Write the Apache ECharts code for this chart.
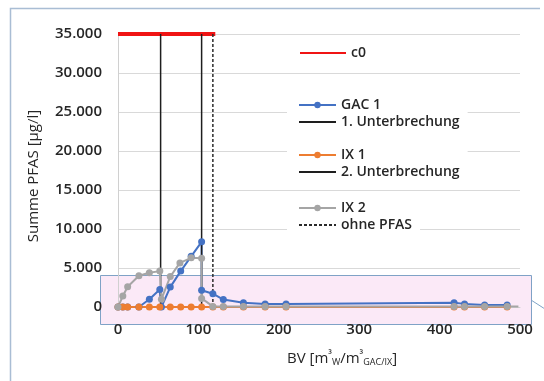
<!DOCTYPE html>
<html>
<head>
<meta charset="utf-8">
<script src="https://cdn.jsdelivr.net/npm/echarts@6/dist/echarts.min.js"></script>
<style>
html,body{margin:0;padding:0;background:#ffffff;}
#c{width:544px;height:381px;}
</style>
</head>
<body>
<div id="c"></div>
<script>
// ---- data ----
const yTicks = [0, 5000, 10000, 15000, 20000, 25000, 30000, 35000];
const xTicks = [0, 100, 200, 300, 400, 500];

const c0X = [0, 121];
const c0Y = [35000, 35000];

const gac1X = [0, 6, 12, 26, 39, 52, 54, 65, 78, 91, 104, 104, 118, 131, 156, 183, 209, 418, 431, 456, 484];
const gac1Y = [0, 0, 0, 0, 1000, 2250, 0, 2550, 4600, 6500, 8350, 2150, 1700, 950, 550, 400, 400, 550, 400, 250, 250];

const ix1X = [0, 6, 12, 26, 39, 52, 65, 78, 91, 104, 118, 131, 156, 183, 209, 418, 431, 456, 484];
const ix1Y = [0, 0, 0, 0, 0, 0, 0, 0, 0, 0, 0, 0, 0, 0, 0, 0, 0, 0, 0];

const ix2X = [0, 6, 12, 26, 39, 52, 54, 65, 77, 91, 104, 104, 118, 131, 156, 183, 209, 418, 431, 456, 484, 498];
const ix2Y = [0, 1400, 2600, 4000, 4400, 4600, 1000, 3900, 5650, 6300, 6250, 1100, 80, 80, 80, 80, 80, 80, 80, 80, 80, 80];

const unterbrechung1X = [53, 53];
const unterbrechung2X = [104, 104];
const ohnePfasX = [118, 118];
const verticalY = [0, 35000];

// ---- helpers ----
const zip = (xs, ys) => xs.map((x, i) => [x, ys[i]]);
const fmt = v => String(v).replace(/\B(?=(\d{3})+(?!\d))/g, '.');
const FONT = 'Open Sans';
const txt = '#262626';

const ix2Data = zip(ix2X, ix2Y).map((p, i) => i === ix2X.length - 1 ? {value: p, symbol: 'none'} : p);

const chart = echarts.init(document.getElementById('c'), null, {renderer: 'canvas'});

const legendText = {fontFamily: FONT, fontSize: 14, fontWeight: 600, color: txt};
const legendBase = {
  orient: 'vertical', left: 287, itemWidth: 37, itemHeight: 8, itemGap: 3,
  padding: [3, 8, 3, 11], backgroundColor: '#ffffff', selectedMode: false,
  textStyle: legendText
};

chart.setOption({
  animation: false,
  backgroundColor: '#ffffff',
  grid: {left: 118, right: 24, top: 34, bottom: 74, containLabel: false},
  xAxis: {
    type: 'value', min: 0, max: 500, interval: 100,
    axisLine: {show: true, lineStyle: {color: '#d0d0d0', width: 1}},
    axisTick: {show: false},
    splitLine: {show: false},
    axisLabel: {margin: 15, fontFamily: FONT, fontSize: 15, fontWeight: 600, color: txt,
      formatter: v => xTicks.includes(v) ? String(v) : ''}
  },
  yAxis: {
    type: 'value', min: 0, max: 35000, interval: 5000,
    axisLine: {show: true, lineStyle: {color: '#d0d0d0', width: 1}},
    axisTick: {show: false},
    splitLine: {show: true, lineStyle: {color: '#d9d9d9', width: 1}},
    axisLabel: {margin: 16, fontFamily: FONT, fontSize: 15, fontWeight: 600, color: txt,
      formatter: v => yTicks.includes(v) ? fmt(v) : ''}
  },
  legend: [
    Object.assign({}, legendBase, {data: [{name: 'c0', itemStyle: {opacity: 0}}], top: 43, left: 288, itemWidth: 46}),
    Object.assign({}, legendBase, {data: ['GAC 1', {name: '1. Unterbrechung', itemStyle: {opacity: 0}}], top: 95}),
    Object.assign({}, legendBase, {data: ['IX 1', {name: '2. Unterbrechung', itemStyle: {opacity: 0}}], top: 145}),
    Object.assign({}, legendBase, {data: ['IX 2', {name: 'ohne PFAS', itemStyle: {opacity: 0}}], top: 198})
  ],
  graphic: [
    {type: 'rect', z: -1, shape: {x: 100.5, y: 275.5, width: 431, height: 49},
      style: {fill: '#fbe9f7', stroke: '#7fa2c6', lineWidth: 1}},
    {type: 'line', z: -1, shape: {x1: 531, y1: 300, x2: 545, y2: 309},
      style: {stroke: '#7fa2c6', lineWidth: 1}},
    {type: 'polyline', z: -1, shape: {points: [[10.5, 390], [10.5, 8.5], [540, 8.5]]},
      style: {stroke: '#a9bdd4', lineWidth: 1.5, fill: null}},
    {type: 'text', z: 5, rotation: Math.PI / 2, x: 34, y: 176,
      style: {text: 'Summe PFAS [µg/l]', fontFamily: FONT, fontSize: 15, fontWeight: 500, fill: txt,
        align: 'center', verticalAlign: 'middle'}},
    {type: 'text', z: 5, x: 342, y: 359,
      style: {
        text: '{a|BV [m}{sup|³}{sub|W}{a|/m}{sup|³}{sub|GAC/IX}{a|]}',
        align: 'center', verticalAlign: 'middle',
        rich: {
          a: {fontFamily: FONT, fontSize: 15, fontWeight: 500, fill: txt, color: txt},
          sup: {fontFamily: FONT, fontSize: 10, fontWeight: 600, fill: txt, color: txt, padding: [0, 0, 7, 0]},
          sub: {fontFamily: FONT, fontSize: 9, fill: txt, color: txt, padding: [7, 0, 0, 0]}
        }
      }}
  ],
  series: [
    {name: 'c0', type: 'line', data: zip(c0X, c0Y), symbol: 'none',
      lineStyle: {color: '#f01414', width: 4}, itemStyle: {color: '#f01414'}},
    {name: 'GAC 1', type: 'line', data: zip(gac1X, gac1Y), symbol: 'circle', symbolSize: 7,
      lineStyle: {color: '#4472c4', width: 2}, itemStyle: {color: '#4472c4'}},
    {name: '1. Unterbrechung', type: 'line', data: zip(unterbrechung1X, verticalY), symbol: 'none',
      lineStyle: {color: '#1e1e1e', width: 1.5}, itemStyle: {color: '#1e1e1e'}},
    {name: 'IX 1', type: 'line', data: zip(ix1X, ix1Y), symbol: 'circle', symbolSize: 7,
      lineStyle: {color: '#ed7d31', width: 2}, itemStyle: {color: '#ed7d31'}},
    {name: '2. Unterbrechung', type: 'line', data: zip(unterbrechung2X, verticalY), symbol: 'none',
      lineStyle: {color: '#1e1e1e', width: 1.5}, itemStyle: {color: '#1e1e1e'}},
    {name: 'IX 2', type: 'line', data: ix2Data, symbol: 'circle', symbolSize: 7,
      lineStyle: {color: '#a5a5a5', width: 2}, itemStyle: {color: '#a5a5a5'}},
    {name: 'ohne PFAS', type: 'line', data: zip(ohnePfasX, verticalY), symbol: 'none',
      lineStyle: {color: '#2a2a2a', width: 1.5, type: [3, 2]}, itemStyle: {color: '#2a2a2a'}}
  ]
});
</script>
</body>
</html>
